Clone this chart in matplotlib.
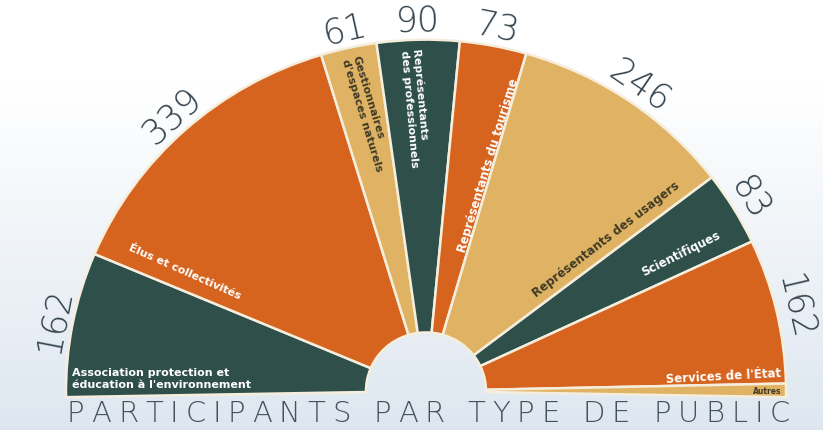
import matplotlib
matplotlib.use("Agg")
import matplotlib.pyplot as plt
from matplotlib.patches import Wedge
from matplotlib.transforms import Affine2D
import numpy as np

# ---------------- data ----------------
categories = [
    "Association protection et\néducation à l'environnement",
    "Élus et collectivités",
    "Gestionnaires\nd'espaces naturels",
    "Représentants\ndes professionnels",
    "Représentants du tourisme",
    "Représentants des usagers",
    "Scientifiques",
    "Services de l'État",
    "Autres",
]
values = [162, 339, 61, 90, 73, 246, 83, 162, 15]
value_labels = ["162", "339", "61", "90", "73", "246", "83", "162", ""]
title = "PARTICIPANTS PAR TYPE DE PUBLIC"

# ---------------- style ----------------
TEAL = "#2e4f4a"
ORANGE = "#d6641f"
TAN = "#dfb363"
DARK = "#3f3a26"
colors = [TEAL, ORANGE, TAN, TEAL, ORANGE, TAN, TEAL, ORANGE, TAN]
label_colors = ["white", "white", DARK, "white", "white", DARK, "white", "white", DARK]

W, H = 823, 430
CX, CY = 426, 391          # centre in pixel coords (y down)
R_OUT, R_IN = 360, 60
SY = 0.976                 # slight vertical squash of the half-disc
A_START, A_SPAN = 181.0, 182.0

def P(x, y):
    """pixel (y down) -> data (y up)"""
    return x, H - y

fig = plt.figure(figsize=(W / 100, H / 100), dpi=100)
ax = fig.add_axes([0, 0, 1, 1])
ax.set_xlim(0, W)
ax.set_ylim(0, H)
ax.axis("off")

# background gradient
yy = np.linspace(0, 1, H)[:, None, None]
t = np.clip((yy - 0.2) / 0.8, 0, 1)
top = np.array([1.0, 1.0, 1.0])
bot = np.array([0.87, 0.905, 0.94])
img = top * (1 - t) + bot * t
img = np.repeat(img, 2, axis=1)
ax.imshow(img, extent=[0, W, 0, H], aspect="auto", origin="upper", zorder=0)

# wedges
total = sum(values)
k = A_SPAN / total
cx, cy = P(CX, CY)
tr = Affine2D().scale(1, SY).translate(cx, cy) + ax.transData
start = A_START
mids = []
for v, c in zip(values, colors):
    t2 = start
    t1 = start - v * k
    ax.add_patch(Wedge((0, 0), R_OUT, t1, t2, width=R_OUT - R_IN,
                       facecolor=c, edgecolor="#f6eedd", linewidth=1.8,
                       transform=tr, zorder=2))
    mids.append((t1 + t2) / 2)
    start = t1

# value labels around the arc
for lab, m in zip(value_labels, mids):
    if not lab:
        continue
    rr = R_OUT + 19
    x = cx + rr * np.cos(np.radians(m))
    y = cy + rr * SY * np.sin(np.radians(m))
    ax.text(x, y, lab, rotation=m - 90, rotation_mode="anchor", ha="center",
            va="center", fontsize=25, color="#34434d", family="DejaVu Sans",
            fontweight="light", zorder=3)

# category labels (pixel positions, rotation, alignment)
label_pos = [
    ((72, 379), 0, "left", 8),
    ((185, 272), -24, "center", 8),
    ((350, 58), -73, "left", 8),
    ((410, 50), -85, "left", 8),
    ((488, 165), 73, "center", 8.5),
    ((606, 240), 37.5, "center", 8.5),
    ((681, 254), 26.5, "center", 8.5),
    ((781, 373), 3, "right", 8.5),
    ((767, 391), 0, "center", 5.5),
]
for cat, col, (pos, rot, ha, fs) in zip(categories, label_colors, label_pos):
    x, y = P(*pos)
    ax.text(x, y, cat, rotation=rot, rotation_mode="anchor", ha=ha, va="center",
            fontsize=fs, color=col, fontweight="bold", family="DejaVu Sans",
            linespacing=1.15, multialignment="left", zorder=4)

# letter-spaced title
fig.canvas.draw()
renderer = fig.canvas.get_renderer()
x0, x1 = 67, 790
ty = P(0, 414)[1]
fs_t = 21
chars = []
widths = []
for ch in title:
    txt = ax.text(0, ty, ch if ch != " " else "I", fontsize=fs_t, color="#43525f",
                  family="DejaVu Sans", fontweight="light", ha="left", va="center",
                  zorder=4)
    bb = txt.get_window_extent(renderer)
    w = bb.width
    if ch == " ":
        txt.set_text("")
        w = fs_t * 100 / 72 * 0.32
    chars.append(txt)
    widths.append(w)
track = (x1 - x0 - sum(widths)) / (len(title) - 1)
xc = x0
for txt, w in zip(chars, widths):
    txt.set_x(xc)
    xc += w + track

fig.savefig("out.png", dpi=100)
